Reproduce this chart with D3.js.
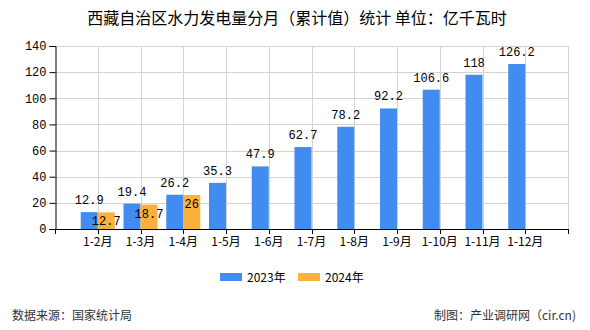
<!DOCTYPE html>
<html>
<head>
<meta charset="utf-8">
<script src="https://cdn.jsdelivr.net/npm/d3@7"></script>
<style>
  html, body { margin: 0; padding: 0; background: #fff; }
  svg { display: block; font-family: "SimSun", "Noto Sans CJK SC", sans-serif; }
</style>
</head>
<body>
<svg id="chart" width="590" height="330"></svg>
<script>
// Monthly cumulative hydropower output, Tibet (100 million kWh)
const categories = ["1-2月", "1-3月", "1-4月", "1-5月", "1-6月", "1-7月", "1-8月", "1-9月", "1-10月", "1-11月", "1-12月"];
const values2023 = [12.9, 19.4, 26.2, 35.3, 47.9, 62.7, 78.2, 92.2, 106.6, 118, 126.2];
const values2024 = [12.7, 18.7, 26];
const seriesNames = ["2023年", "2024年"];
const yTicks = [0, 20, 40, 60, 80, 100, 120, 140];

const colors = ["#418CF0", "#FCB13F"];
const svg = d3.select("#chart");
const plotL = 55, plotR = 568, plotT = 46, plotB = 229;
const barW = 17;

const x = d3.scalePoint().domain(categories).range([plotL, plotR]).padding(1);
const y = d3.scaleLinear().domain([0, 140]).range([plotB, plotT]);

// Title
svg.append("text")
  .attr("x", 297).attr("y", 24)
  .attr("text-anchor", "middle")
  .attr("font-size", 16).attr("fill", "#000")
  .text("西藏自治区水力发电量分月（累计值）统计 单位：亿千瓦时");

// Horizontal grid
svg.append("g").selectAll("line").data(yTicks.filter(d => d > 0)).join("line")
  .attr("x1", plotL).attr("x2", plotR)
  .attr("y1", d => Math.round(y(d)) + 0.5).attr("y2", d => Math.round(y(d)) + 0.5)
  .attr("stroke", "#d3d3d3").attr("stroke-width", 1);

// Vertical grid at category positions and right border
const vLines = categories.map(c => x(c)).concat([plotR]);
svg.append("g").selectAll("line").data(vLines).join("line")
  .attr("x1", d => Math.round(d) + 0.5).attr("x2", d => Math.round(d) + 0.5)
  .attr("y1", plotT).attr("y2", plotB)
  .attr("stroke", "#d3d3d3").attr("stroke-width", 1);

// Bars
const groups = [values2023, values2024];
groups.forEach((vals, si) => {
  const g = svg.append("g");
  g.selectAll("rect").data(vals).join("rect")
    .attr("x", (d, i) => x(categories[i]) + (si === 0 ? -barW : 0))
    .attr("y", d => y(d))
    .attr("width", barW)
    .attr("height", d => y(0) - y(d))
    .attr("fill", colors[si]);
});

// Value labels
const labelFont = "'Liberation Mono', 'DejaVu Sans Mono', monospace";
svg.append("g").selectAll("text").data(values2023).join("text")
  .attr("x", (d, i) => x(categories[i]) - barW / 2)
  .attr("y", d => y(d) - 8)
  .attr("text-anchor", "middle")
  .attr("font-size", 12).attr("font-family", labelFont).attr("fill", "#000")
  .text(d => d);
svg.append("g").selectAll("text").data(values2024).join("text")
  .attr("x", (d, i) => x(categories[i]) + barW / 2)
  .attr("y", d => y(d) + 13)
  .attr("text-anchor", "middle")
  .attr("font-size", 12).attr("font-family", labelFont).attr("fill", "#000")
  .text(d => d);

// Y axis
const yAxis = d3.axisLeft(y).tickValues(yTicks).tickSize(6).tickPadding(3);
const gy = svg.append("g").attr("transform", `translate(${plotL + 0.5},0)`).call(yAxis);
gy.select(".domain").attr("stroke", "#000");
gy.selectAll(".tick line").attr("stroke", "#000");
gy.selectAll(".tick text").attr("font-size", 12).attr("font-family", labelFont).attr("fill", "#000");

// X axis: tick marks at slot boundaries, labels at categories
const step = x.step();
const tickPos = d3.range(0, 13).map(k => plotL + k * step);
svg.append("line")
  .attr("x1", plotL).attr("x2", plotR + 1)
  .attr("y1", plotB + 0.5).attr("y2", plotB + 0.5)
  .attr("stroke", "#000");
svg.append("g").selectAll("line").data(tickPos).join("line")
  .attr("x1", d => Math.round(d) + 0.5).attr("x2", d => Math.round(d) + 0.5)
  .attr("y1", plotB).attr("y2", plotB + 5)
  .attr("stroke", "#000");
svg.append("g").selectAll("text").data(categories).join("text")
  .attr("x", d => x(d))
  .attr("y", plotB + 17)
  .attr("text-anchor", "middle")
  .attr("font-size", 12).attr("fill", "#000")
  .text(d => d);

// Legend
const legendX = [220, 298];
seriesNames.forEach((name, i) => {
  svg.append("rect")
    .attr("x", legendX[i]).attr("y", 273)
    .attr("width", 22).attr("height", 8)
    .attr("fill", colors[i]);
  svg.append("text")
    .attr("x", legendX[i] + 27).attr("y", 282)
    .attr("font-size", 12).attr("fill", "#000")
    .text(name);
});

// Footer
svg.append("text")
  .attr("x", 12).attr("y", 320)
  .attr("font-size", 12).attr("fill", "#333")
  .text("数据来源：国家统计局");
svg.append("text")
  .attr("x", 576).attr("y", 320)
  .attr("text-anchor", "end")
  .attr("font-size", 12).attr("fill", "#333")
  .text("制图：产业调研网（cir.cn)");
</script>
</body>
</html>
